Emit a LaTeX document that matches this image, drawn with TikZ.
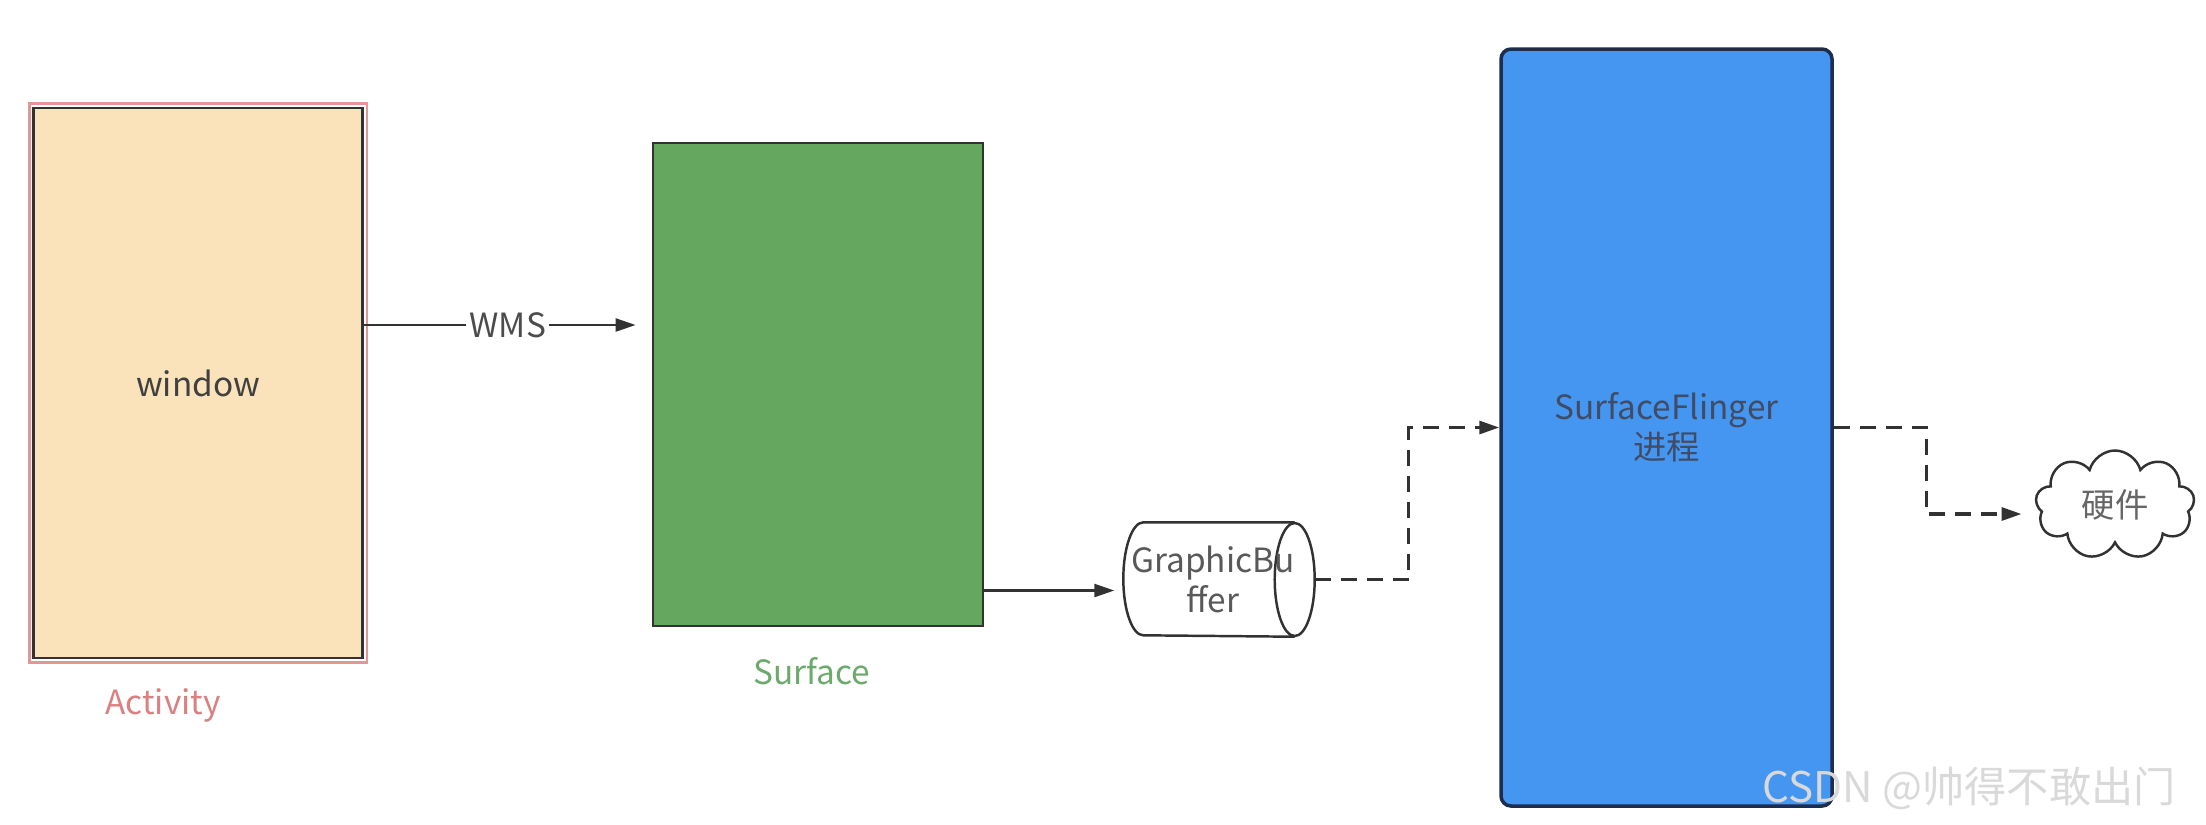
\documentclass[tikz,border=0pt]{standalone}
\usepackage{fontspec}
\setmainfont{Noto Sans CJK SC}
\usetikzlibrary{arrows.meta,shapes.symbols,fit}
\definecolor{sand}{RGB}{250,227,187}
\definecolor{rose}{RGB}{226,150,150}
\definecolor{roseText}{RGB}{218,128,128}
\definecolor{leaf}{RGB}{102,167,96}
\definecolor{leafText}{RGB}{108,170,108}
\definecolor{sky}{RGB}{69,150,240}
\definecolor{navy}{RGB}{30,45,75}
\definecolor{ink}{RGB}{50,50,50}

\begin{document}
\begin{tikzpicture}[x=0.1mm,y=-0.1mm,
    every node/.style={font=\fontsize{9.5}{11.5}\selectfont},
    block/.style={draw=ink,line width=0.8pt,inner sep=0pt},
    arr/.style={ink,line width=0.7pt,-{Triangle[length=2mm,width=1.3mm]}},
    dasharr/.style={arr,line width=0.9pt,dash pattern=on 1.6mm off 1mm}]
  \useasboundingbox (0,0) rectangle (2206,824);
  \node[block,fill=sand,text=black!75,minimum width=32.9mm,minimum height=55mm] (win) at (198,383) {window};
  \node[draw=rose,line width=0.8pt,inner sep=0.3mm,fit=(win)] (act) {};
  \node[text=roseText] (actlbl) at (163,705) {Activity};
  \node[block,fill=leaf,minimum width=33mm,minimum height=48.3mm] (surf) at (818,384.5) {};
  \node[text=leafText] (surflbl) at (812,671) {Surface};
  \node[minimum width=19mm,minimum height=11.3mm,inner sep=0pt] (gb) at (1219,579.5) {};
  \draw[ink,line width=0.7pt,fill=white] ([xshift=-2mm]gb.north east) -- ([xshift=2mm]gb.north west)
    arc[start angle=90,end angle=270,x radius=2mm,y radius=5.65mm] -- ([xshift=-2mm]gb.south east);
  \draw[ink,line width=0.7pt,fill=white] ([xshift=-2mm]gb.east) ellipse[x radius=2mm,y radius=5.65mm];
  \node[text=black!65,align=center,inner sep=0pt] at ([xshift=-0.6mm]gb.center) {GraphicBu\\ffer};
  \node[draw=navy,line width=1pt,fill=sky,rounded corners=1mm,minimum width=33.1mm,minimum height=75.7mm,inner sep=0pt,text=navy!85,align=center] (sf) at (1666.5,427.5) {SurfaceFlinger\\进程};
  \node[draw=ink,line width=0.7pt,fill=white,cloud,cloud puffs=9,aspect=1.5,minimum width=15.9mm,minimum height=10.9mm,inner sep=0pt,text=black!60] (hw) at (2115,505) {硬件};
  \coordinate (wmsout) at ([yshift=5.8mm]win.east);
  \coordinate (gbout) at ([yshift=-20.6mm]surf.east);
  \draw[arr,shorten >=1.6mm] (wmsout) -- node[fill=white,text=black!70,inner sep=1pt] {WMS} (wmsout -| surf.west);
  \draw[arr,shorten >=0.9mm] (gbout) -- (gbout -| gb.west);
  \draw[dasharr] (gb.east) -- ++(94,0) |- (sf.west);
  \draw[dasharr,shorten >=1.4mm] (sf.east) -- ++(93,0) |- ([yshift=-0.9mm]hw.west);
  \node[text=black!15,font=\fontsize{12}{14}\selectfont,anchor=east] (mark) at (2188,788) {CSDN @帅得不敢出门};
\end{tikzpicture}
\end{document}
